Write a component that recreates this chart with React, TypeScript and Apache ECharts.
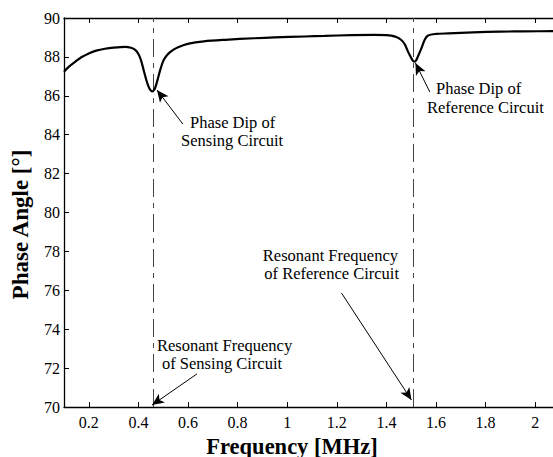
import React, { useEffect, useRef } from "react";
import * as echarts from "echarts";

const freq = [0.1, 0.12, 0.145, 0.17, 0.2, 0.23, 0.265, 0.3, 0.347, 0.37, 0.387, 0.4, 0.41, 0.421, 0.431, 0.441, 0.448, 0.455, 0.462, 0.468, 0.478, 0.488, 0.5, 0.51, 0.522, 0.54, 0.56, 0.603, 0.664, 0.75, 0.867, 0.95, 1.07, 1.15, 1.258, 1.35, 1.4, 1.42, 1.44, 1.46, 1.474, 1.487, 1.5, 1.507, 1.514, 1.521, 1.528, 1.541, 1.555, 1.568, 1.6, 1.65, 1.75, 1.86, 1.95, 2.1];
const phase = [87.24, 87.5, 87.75, 87.98, 88.18, 88.32, 88.42, 88.48, 88.52, 88.47, 88.36, 88.15, 87.85, 87.33, 86.85, 86.47, 86.3, 86.22, 86.28, 86.42, 86.85, 87.33, 87.78, 88.0, 88.18, 88.36, 88.5, 88.68, 88.8, 88.88, 88.96, 89.0, 89.05, 89.08, 89.12, 89.13, 89.12, 89.09, 89.02, 88.87, 88.65, 88.27, 87.95, 87.8, 87.75, 87.85, 88.05, 88.44, 88.9, 89.1, 89.18, 89.21, 89.26, 89.3, 89.31, 89.33];

const xTicks = [0.2, 0.4, 0.6, 0.8, 1.0, 1.2, 1.4, 1.6, 1.8, 2.0];
const resonantFreqs = [0.456, 1.514];

// arrows: tail and head points in data units
const arrowTails = [[0.579, 84.55], [1.575, 86.2], [0.636, 71.7], [1.219, 75.86]];
const arrowHeads = [[0.475, 86.3], [1.517, 87.69], [0.455, 70.1], [1.501, 70.36]];

const SERIF = "Liberation Serif, Times New Roman, serif";

export default function App() {
  const ref = useRef<HTMLDivElement>(null);
  useEffect(() => {
    document.body.style.margin = "0";
    const chart = echarts.init(ref.current!, null, { renderer: "svg" });
    const txt = (text: string, x: number, y: number, align = "left") => ({
      type: "text",
      x,
      y,
      style: {
        text,
        fontFamily: SERIF,
        fontSize: 16.5,
        fill: "#000",
        textAlign: align,
        textVerticalAlign: "middle",
      },
    });
    const fmt = (v: number) => String(parseFloat(v.toFixed(1)));
    chart.setOption({
      animation: false,
      backgroundColor: "#fff",
      grid: { left: 64, top: 18, right: -7, bottom: 50, containLabel: false, outerBoundsMode: "none" },
      xAxis: [
        {
          type: "value",
          min: 0.1,
          max: 2.1,
          name: "Frequency [MHz]",
          nameLocation: "middle",
          nameGap: 26,
          nameTextStyle: {
            fontFamily: SERIF,
            fontWeight: "bold",
            fontSize: 22.5,
            lineHeight: 20,
            color: "#000",
            padding: [0, 40, 0, 0],
          },
          axisLine: { show: true, lineStyle: { color: "#000", width: 1.3 } },
          axisTick: { show: true, inside: true, length: 5, customValues: xTicks, lineStyle: { color: "#000" } },
          axisLabel: {
            customValues: xTicks,
            formatter: fmt,
            fontFamily: SERIF,
            fontSize: 16,
            color: "#000",
            margin: 7,
          },
          splitLine: { show: false },
        },
        {
          type: "value",
          position: "top",
          min: 0.1,
          max: 2.1,
          axisLine: { show: true, lineStyle: { color: "#000", width: 1.3 } },
          axisTick: { show: true, inside: true, length: 5, customValues: xTicks, lineStyle: { color: "#000" } },
          axisLabel: { show: false },
          splitLine: { show: false },
        },
      ],
      yAxis: {
        type: "value",
        min: 70,
        max: 90,
        interval: 2,
        name: "Phase Angle [°]",
        nameLocation: "middle",
        nameGap: 32,
        nameTextStyle: {
          fontFamily: SERIF,
          fontWeight: "bold",
          fontSize: 23,
          color: "#000",
          padding: [0, 24, 0, 0],
        },
        axisLine: { show: true, lineStyle: { color: "#000", width: 1.3 } },
        axisTick: { show: true, inside: true, length: 5, lineStyle: { color: "#000" } },
        axisLabel: { fontFamily: SERIF, fontSize: 16, color: "#000", margin: 4 },
        splitLine: { show: false },
      },
      series: [
        {
          type: "line",
          data: freq.map((f, i) => [f, phase[i]]),
          showSymbol: false,
          smooth: 0.3,
          lineStyle: { color: "#000", width: 2.2 },
          z: 5,
          markLine: {
            silent: true,
            symbol: "none",
            label: { show: false },
            lineStyle: { color: "#444", width: 1, type: [18, 6, 5, 6] },
            data: resonantFreqs.map((f) => ({ xAxis: f })),
          },
        },
        {
          type: "line",
          data: [],
          markLine: {
            silent: true,
            symbol: ["none", "arrow"],
            symbolSize: [8, 12],
            label: { show: false },
            lineStyle: { color: "#000", width: 1, type: "solid" },
            itemStyle: { color: "#000" },
            data: arrowTails.map((t, i) => [{ coord: t }, { coord: arrowHeads[i] }]),
          },
        },
      ],
      graphic: [
        txt("Phase Dip of", 190, 122),
        txt("Sensing Circuit", 181, 140),
        txt("Phase Dip of", 436, 88),
        txt("Reference Circuit", 427, 107),
        txt("Resonant Frequency", 157, 345),
        txt("of Sensing Circuit", 162, 363),
        txt("Resonant Frequency", 398, 255, "right"),
        txt("of Reference Circuit", 399, 273, "right"),
      ],
    });
    return () => chart.dispose();
  }, []);
  return (
    <div
      ref={ref}
      style={{ position: "absolute", left: 0, top: 0, width: 553, height: 457 }}
    />
  );
}
